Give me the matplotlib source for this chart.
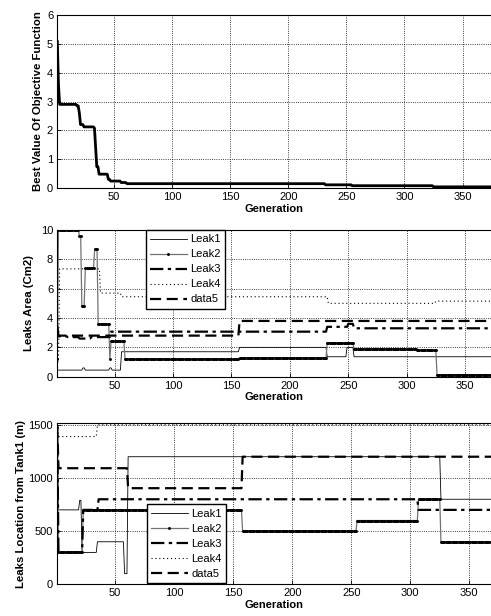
import numpy as np
import matplotlib
matplotlib.use('Agg')
import matplotlib.pyplot as plt

plt.rcParams['font.family'] = ['Liberation Sans', 'DejaVu Sans']

last_gen = 375

# step data: generation where a value starts, value
best_start = [1, 2, 3, 18, 20, 21, 24, 33, 34, 35, 37, 45, 47, 56, 61, 232, 255, 325]
best_val = [5.08, 3.6, 2.9, 2.85, 2.6, 2.2, 2.12, 2.08, 1.4, 0.74, 0.48, 0.3, 0.24, 0.19, 0.15, 0.11, 0.08, 0.04]

# leak areas (Cm2)
leak1_area_start = [1, 23, 25, 46, 48, 56, 157, 232, 249, 255]
leak1_area_val = [0.45, 0.6, 0.45, 0.6, 0.45, 1.7, 2.0, 1.36, 2.0, 1.36]
leak2_area_start = [1, 2, 20, 22, 25, 33, 36, 46, 47, 59, 157, 232, 255, 309, 326]
leak2_area_val = [1.2, 10, 9.6, 4.85, 7.4, 8.7, 3.6, 1.2, 2.4, 1.18, 1.3, 2.3, 1.9, 1.8, 0.12]
leak3_area_start = [1, 2, 10, 20, 30, 47, 232, 250, 255]
leak3_area_val = [3.5, 2.75, 2.7, 2.6, 2.7, 3.07, 3.4, 3.6, 3.3]
leak4_area_start = [1, 3, 38, 56, 233, 325]
leak4_area_val = [1.0, 7.35, 5.7, 5.45, 5.0, 5.15]
data5_area_start = [1, 2, 157]
data5_area_val = [3.0, 2.8, 3.8]

# leak locations (m)
leak1_loc_start = [1, 2, 20, 22, 35, 58, 61, 326]
leak1_loc_val = [1450, 700, 790, 300, 400, 100, 1200, 800]
leak2_loc_start = [1, 2, 23, 158, 255, 307, 326]
leak2_loc_val = [1480, 300, 700, 500, 600, 800, 400]
leak3_loc_start = [1, 2, 23, 36, 307]
leak3_loc_val = [1400, 300, 700, 800, 700]
leak4_loc_start = [1, 2, 35]
leak4_loc_val = [1500, 1390, 1500]
data5_loc_start = [1, 2, 61, 158]
data5_loc_val = [1480, 1092, 904, 1200]

labels = ['Leak1', 'Leak2', 'Leak3', 'Leak4', 'data5']


def expand(starts, vals):
    # run-length step data -> one value per generation
    lengths = np.diff(starts + [last_gen + 1])
    return np.repeat(vals, lengths)


gens = np.arange(1, last_gen + 1)

W, H = 491, 616
fig = plt.figure(figsize=(W / 100, H / 100), dpi=100)


def make_axes(top, bottom, xmax):
    ax = fig.add_axes([57.3 / W, 1 - bottom / H, 1 - 57.3 / W, (bottom - top) / H])
    ax.set_xlim(1, xmax)
    ax.set_xticks(range(50, 351, 50))
    ax.grid(True, linestyle=':', color='k', linewidth=0.6)
    ax.tick_params(direction='in', length=3, width=0.6, labelsize=8, pad=3)
    ax.spines['right'].set_visible(False)
    for s in ['left', 'top', 'bottom']:
        ax.spines[s].set_linewidth(0.8)
    ax.set_xlabel('Generation', fontsize=8, fontweight='bold', labelpad=1)
    return ax


styles = [
    dict(color='k', lw=0.6, ls='-'),
    dict(color='0.45', lw=0.9, ls='-', marker='.', ms=2.2, mfc='k', mec='k'),
    dict(color='k', lw=1.6, ls=(0, (6, 2, 1.5, 2))),
    dict(color='k', lw=0.8, ls=(0, (1, 2.5))),
    dict(color='k', lw=1.6, ls=(0, (5, 2.5))),
]

# top
ax1 = make_axes(15, 188, 374.5)
ax1.plot(gens, expand(best_start, best_val), color='k', lw=2)
ax1.set_ylim(0, 6)
ax1.set_ylabel('Best Value Of Objective Function', fontsize=8.2, fontweight='bold', labelpad=3)

# middle
ax2 = make_axes(230, 376.7, 372.2)
area = [(leak1_area_start, leak1_area_val), (leak2_area_start, leak2_area_val),
        (leak3_area_start, leak3_area_val), (leak4_area_start, leak4_area_val),
        (data5_area_start, data5_area_val)]
for (st, v), lab, sty in zip(area, labels, styles):
    ax2.plot(gens, expand(st, v), label=lab, **sty)
ax2.set_ylim(0, 10)
ax2.set_ylabel('Leaks Area (Cm2)', fontsize=8.2, fontweight='bold', labelpad=5)
ax2.legend(loc='upper left', bbox_to_anchor=(145.7 / W, 1 - 230 / H), bbox_transform=fig.transFigure,
           borderaxespad=0, fontsize=8, handlelength=3.3, labelspacing=0.45, fancybox=False,
           framealpha=1, edgecolor='k', borderpad=0.4, handletextpad=0.3)

# bottom
ax3 = make_axes(422.7, 584.3, 368.4)
loc = [(leak1_loc_start, leak1_loc_val), (leak2_loc_start, leak2_loc_val),
       (leak3_loc_start, leak3_loc_val), (leak4_loc_start, leak4_loc_val),
       (data5_loc_start, data5_loc_val)]
for (st, v), lab, sty in zip(loc, labels, styles):
    ax3.plot(gens, expand(st, v), label=lab, **sty)
ax3.set_ylim(0, 1520)
ax3.set_yticks([0, 500, 1000, 1500])
ax3.set_ylabel('Leaks Location from Tank1 (m)', fontsize=8.2, fontweight='bold', labelpad=2)
ax3.legend(loc='lower left', bbox_to_anchor=(146.7 / W, 1 - 583.3 / H), bbox_transform=fig.transFigure,
           borderaxespad=0, fontsize=8, handlelength=3.3, labelspacing=0.45, fancybox=False,
           framealpha=1, edgecolor='k', borderpad=0.4, handletextpad=0.3)

fig.savefig('out.png', dpi=100)
